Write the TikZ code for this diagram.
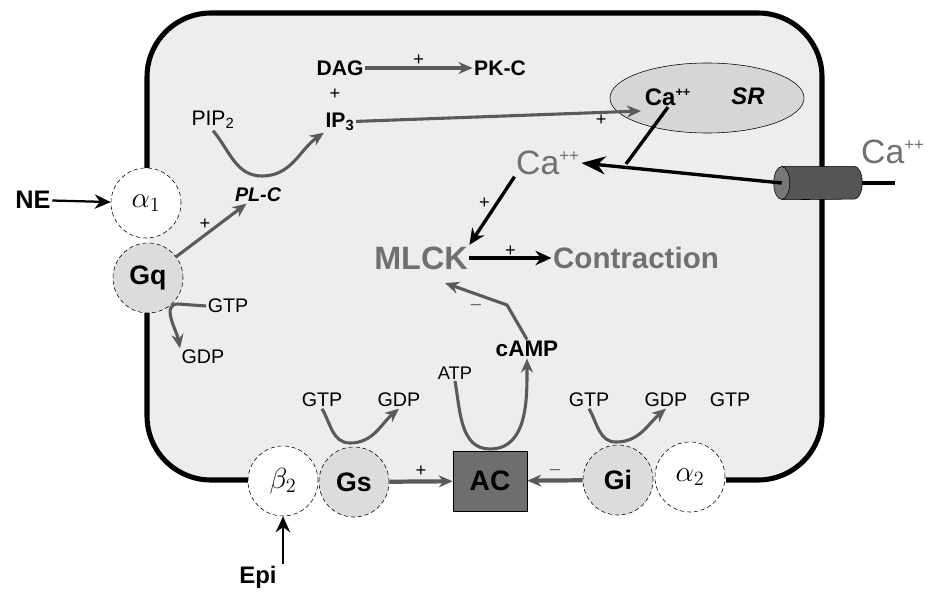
\documentclass[tikz,border=0pt]{standalone}
\usepackage{fontspec}
\setmainfont{Liberation Sans}
\usetikzlibrary{arrows.meta,positioning,shapes.geometric}

\definecolor{cellbg}{HTML}{EDEDED}
\definecolor{gfill}{HTML}{DCDCDC}
\definecolor{srfill}{HTML}{D6D6D6}
\definecolor{acfill}{HTML}{6E6E6E}
\definecolor{arrgray}{HTML}{5A5A5A}
\definecolor{txtgray}{HTML}{707070}
\definecolor{chanfill}{HTML}{555555}

\newcommand{\fsz}[1]{\fontsize{#1}{#1}\selectfont}

\begin{document}
\begin{tikzpicture}[
    x=0.025cm, y=-0.025cm,
    every node/.style={inner sep=1pt},
    receptor/.style={
        circle,
        draw,
        densely dashed,
        thin,
        fill=white,
        minimum size=1.75cm,
        inner sep=0pt
    },
    gprot/.style={receptor, fill=gfill, font=\fsz{19}\bfseries},
    term/.style={font=\fsz{15}\bfseries},
    gtxt/.style={font=\fsz{14}},
    bigtxt/.style={font=\fsz{22}\bfseries, text=txtgray},
    pm/.style={font=\fsz{13}},
    garrow/.style={-{Stealth[length=3.5mm,width=3mm]}, line width=2.2pt, draw=arrgray},
    karrow/.style={-{Stealth[length=4mm,width=3.6mm]}, line width=2.4pt},
    membrane/.style={line width=3.6pt, rounded corners=1.6cm}
]

% cell
\fill[cellbg, rounded corners=1.6cm] (147,13) rectangle (822,480);
\draw[membrane] (726,480) -- (822,480) -- (822,13) -- (147,13) -- (147,168);
\draw[membrane] (147,313) -- (147,480) -- (248,480);

% receptors and G proteins
\node[receptor, font=\fsz{20}] (a1) at (146,203) {$\alpha_1$};
\node[gprot] (gq) at (148,278) {Gq};
\node[receptor, font=\fsz{22}] (b2) at (283,481) {$\beta_2$};
\node[gprot] (gs) at (354,482) {Gs};
\node[rectangle, draw, fill=acfill, minimum width=1.85cm, minimum height=1.5cm,
      font=\fsz{20}\bfseries] (ac) at (490,481) {AC};
\node[gprot] (gi) at (618,480) {Gi};
\node[receptor, font=\fsz{20}] (a2) at (690,477) {$\alpha_2$};

% agonists
\node[font=\fsz{18}\bfseries] (ne) at (33,200) {NE};
\node[font=\fsz{17}\bfseries] (epi) at (258,577) {Epi};
\draw[karrow, line width=1.6pt] (ne) -- (a1);
\draw[karrow, line width=1.6pt] (epi.north -| b2) -- (b2);

% PL-C branch
\node[font=\fsz{14}\bfseries\itshape] (plc) at (258,195) {PL-C};
\node[font=\fsz{15}] (pip) at (213,120) {PIP\textsubscript{2}};
\node[term] (ip3) at (340,122) {IP\textsubscript{3}};
\node[term] (dag) at (340,68) {DAG};
\node[term] (pkc) at (500,68) {PK-C};
\node[pm] (pdag) at (335,94) {+};
\draw[garrow] (gq) -- node[pm, above left=-2pt] {+} (plc);
\draw[garrow] (pip.south) to[out=-50,in=180] (262,176) to[out=0,in=-145] (ip3.south west);
\draw[garrow] (dag) -- node[pm, above] {+} (pkc);

% calcium
\node[ellipse, draw, fill=srfill, minimum width=4.85cm, minimum height=1.75cm] (sr) at (707,98) {};
\node[font=\fsz{17}\bfseries] (casr) at (668,97) {Ca\textsuperscript{\fsz{9}++}};
\node[font=\fsz{17}\bfseries\itshape] (srtxt) at (748,96) {SR};
\draw[garrow] (ip3) -- node[pm, pos=0.86, below] {+} (641,111);
\node[font=\fsz{24}, text=txtgray] (cacyt) at (548,163) {Ca\textsuperscript{\fsz{12}++}};
\node[rectangle, minimum width=1.8cm, minimum height=0.82cm, inner sep=0pt] (chan) at (818,183) {};
\draw[line width=2.4pt] (chan.east) -- (895,183);
\draw[fill=chanfill] (chan.north west) -- (chan.north east)
    arc[start angle=90, end angle=-90, x radius=0.2cm, y radius=0.41cm] -- (chan.south west) -- cycle;
\draw[fill=chanfill!80] (chan.west) ellipse[x radius=0.2cm, y radius=0.41cm];
\node[font=\fsz{24}, text=txtgray] (caout) at (893,152) {Ca\textsuperscript{\fsz{12}++}};
\draw[-{Stealth[length=6mm,width=4.5mm]}, line width=2.4pt] (chan.west) -- (cacyt.east);
\draw[line width=2.4pt] (casr.south) -- (626,164);

% MLCK
\node[bigtxt, font=\fsz{23}\bfseries] (mlck) at (421,258) {MLCK};
\node[bigtxt, font=\fsz{21}\bfseries] (contr) at (636,258) {Contraction};
\draw[karrow] (cacyt.south west) -- node[pm, above left=-1pt] {+} (mlck.north east);
\draw[karrow] (mlck) -- node[pm, above=-1pt] {+} (contr);

% cAMP branch
\node[font=\fsz{16}\bfseries] (camp) at (527,349) {cAMP};
\node[font=\fsz{13}] (atp) at (455,373) {ATP};
\draw[garrow] (camp.north) -- (507,305) -- node[pm, below=2pt] {$-$} (445,283);
\draw[garrow] (atp.south) to[out=-80,in=180] (490,449) to[out=0,in=-90] (camp.south);

% GTP / GDP exchange
\node[gtxt] (gtpq) at (228,306) {GTP};
\node[gtxt] (gdpq) at (203,357) {GDP};
\draw[garrow] (gtpq.west) -- (178,304) to[out=180,in=100] (gdpq.north west);

\node[gtxt] (gtps) at (322,400) {GTP};
\node[gtxt] (gdps) at (399,400) {GDP};
\draw[garrow] (gtps.south) to[out=-60,in=180] (350,443) to[out=0,in=-140] (gdps.south);

\node[gtxt] (gtpi) at (589,400) {GTP};
\node[gtxt] (gdpi) at (666,400) {GDP};
\node[gtxt] (gtpi2) at (730,400) {GTP};
\draw[garrow] (gtpi.south) to[out=-60,in=180] (616,442) to[out=0,in=-140] (gdpi.south);

% effects on AC
\draw[garrow, line width=3pt] (gs) -- node[pm, above=1pt] {+} (ac);
\draw[garrow, line width=3pt] (gi) -- node[pm, above=1pt] {$-$} (ac);

\useasboundingbox (0,0) rectangle (928,597);
\end{tikzpicture}
\end{document}
